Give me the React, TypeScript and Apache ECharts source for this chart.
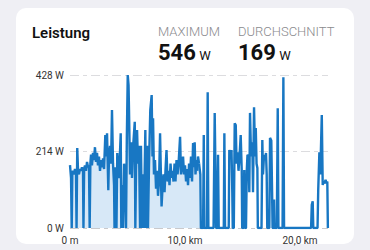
import React, { useEffect, useRef } from "react";
import * as echarts from "echarts";

// Distance (km) and power (W) for the part of the ride with the filled area
const distA: number[] = [
  0.0, 0.04, 0.09, 0.15, 0.2, 0.26, 0.35, 0.43, 0.52, 0.57, 0.63, 0.7, 0.78, 0.87, 0.96, 1.04, 1.13, 1.17, 1.23, 1.3,
  1.39, 1.48, 1.57, 1.65, 1.71, 1.77, 1.83, 1.91, 2.0, 2.09, 2.17, 2.26, 2.35, 2.43, 2.52, 2.61, 2.7, 2.78, 2.87, 2.96,
  3.07, 3.13, 3.22, 3.33, 3.39, 3.48, 3.57, 3.65, 3.74, 3.83, 3.87, 3.93, 4.0, 4.04, 4.11, 4.17, 4.26, 4.41, 4.46, 4.52,
  4.61, 4.7, 4.78, 4.87, 4.94, 5.02, 5.09, 5.13, 5.22, 5.3, 5.39, 5.48, 5.63, 5.68, 5.74, 5.83, 5.91, 6.0, 6.09, 6.17,
  6.26, 6.35, 6.41, 6.55, 6.61, 6.72, 6.78, 6.87, 6.98, 7.1, 7.17, 7.22, 7.3, 7.39, 7.48, 7.57, 7.65, 7.74, 7.83, 7.96,
  8.04, 8.13, 8.22, 8.3, 8.39, 8.48, 8.57, 8.65, 8.74, 8.83, 8.91, 9.0, 9.09, 9.17, 9.26, 9.35, 9.43, 9.57, 9.65, 9.74,
  9.83, 9.91, 10.0, 10.09, 10.17, 10.26, 10.35, 10.43, 10.52, 10.61, 10.7, 10.78, 10.84, 10.91, 11.0, 11.07, 11.13, 11.22,
];
const powerA: number[] = [
  176, 176, 140, 0, 150, 160, 150, 165, 155, 0, 224, 160, 150, 165, 160, 170, 160, 0, 165, 175,
  160, 185, 170, 175, 0, 180, 205, 175, 210, 190, 226, 185, 210, 175, 200, 160, 190, 170, 195, 165,
  260, 200, 265, 106, 200, 230, 180, 330, 180, 120, 0, 170, 130, 0, 210, 160, 140, 265, 0, 120,
  0, 180, 150, 0, 250, 428, 400, 330, 150, 240, 140, 224, 297, 0, 160, 274, 180, 230, 0, 230,
  0, 150, 0, 274, 0, 230, 0, 180, 330, 372, 200, 307, 150, 190, 110, 160, 90, 130, 265, 60,
  110, 150, 100, 160, 218, 130, 160, 120, 180, 140, 160, 130, 180, 130, 190, 150, 175, 255, 150, 170,
  200, 150, 175, 130, 165, 120, 180, 140, 200, 130, 238, 170, 240, 150, 190, 160, 200, 180,
];

// Distance (km) and power (W) for the rest of the ride (line only)
const distB: number[] = [
  11.22, 11.33, 11.37, 11.57, 11.63, 11.68, 11.91, 11.97, 12.03, 12.48, 12.58, 12.65, 12.7, 12.81, 12.87, 12.93,
  13.37, 13.42, 13.48, 13.8, 13.85, 13.96, 14.04, 14.11, 14.15, 14.24, 14.32, 14.41, 14.48, 14.57, 14.65, 14.74,
  14.84, 14.93, 14.97, 15.09, 15.15, 15.22, 15.3, 15.37, 15.43, 15.52, 15.59, 15.65, 15.74, 15.85, 15.91, 16.0,
  16.09, 16.15, 16.22, 16.29, 16.33, 16.65, 16.72, 16.78, 16.87, 16.96, 17.04, 17.1, 17.15, 17.33, 17.39, 17.5,
  17.57, 17.61, 17.7, 17.74, 17.78, 17.98, 18.06, 18.12, 18.48, 18.55, 18.61, 20.96, 21.02, 21.1, 21.15, 21.52,
  21.58, 21.68, 21.76, 21.89, 21.97, 22.04, 22.13, 22.22, 22.3, 22.37, 22.42,
];
const powerB: number[] = [
  180, 150, 0, 0, 260, 0, 0, 380, 0, 0, 322, 150, 0, 0, 205, 0,
  0, 265, 0, 0, 218, 200, 218, 100, 0, 0, 293, 288, 180, 212, 160, 200,
  260, 160, 0, 0, 162, 0, 0, 162, 205, 200, 100, 322, 200, 240, 100, 338,
  200, 280, 180, 168, 0, 0, 246, 150, 205, 190, 210, 150, 0, 0, 252, 245,
  100, 0, 0, 80, 0, 0, 335, 0, 0, 422, 0, 0, 65, 75, 0, 0,
  106, 212, 150, 316, 120, 130, 125, 135, 125, 130, 0,
];

const yTicks: number[] = [0, 214, 428];
const title = "Leistung";
const maxLabel = "MAXIMUM";
const maxValue = "546";
const avgLabel = "DURCHSCHNITT";
const avgValue = "169";
const unit = "W";

const BLUE = "#1877c3";
const FILL = "#d7e8f7";
const FONT = "Roboto, 'Noto Sans', sans-serif";

export default function App() {
  const ref = useRef<HTMLDivElement>(null);

  useEffect(() => {
    document.body.style.margin = "0";
    if (!ref.current) return;
    const chart = echarts.init(ref.current, undefined, { renderer: "svg" });
    const dataA = distA.map((d, i) => [d, powerA[i]]);
    const dataB = distB.map((d, i) => [d, powerB[i]]);
    chart.setOption({
      animation: false,
      backgroundColor: "#efeff4",
      textStyle: { fontFamily: FONT },
      graphic: [
        {
          type: "rect",
          z: -10,
          shape: { x: 16, y: 8, width: 338, height: 236, r: 10 },
          style: { fill: "#ffffff" },
          silent: true,
        },
        {
          type: "text",
          x: 32,
          y: 25,
          style: { text: title, font: `600 15px ${FONT}`, fill: "#111" },
        },
        {
          type: "text",
          x: 158,
          y: 25,
          style: { text: maxLabel, font: `300 13px ${FONT}`, fill: "#8a8a8e" },
        },
        {
          type: "text",
          x: 158,
          y: 41,
          style: {
            text: `{v|${maxValue}} {u|${unit}}`,
            rich: {
              v: { font: `700 22px ${FONT}`, fill: "#111", verticalAlign: "bottom" },
              u: { font: `400 13px ${FONT}`, fill: "#111", verticalAlign: "bottom", padding: [0, 0, 1, 0] },
            },
          },
        },
        {
          type: "text",
          x: 238,
          y: 25,
          style: { text: avgLabel, font: `300 13px ${FONT}`, fill: "#8a8a8e" },
        },
        {
          type: "text",
          x: 238,
          y: 41,
          style: {
            text: `{v|${avgValue}} {u|${unit}}`,
            rich: {
              v: { font: `700 22px ${FONT}`, fill: "#111", verticalAlign: "bottom" },
              u: { font: `400 13px ${FONT}`, fill: "#111", verticalAlign: "bottom", padding: [0, 0, 1, 0] },
            },
          },
        },
      ],
      grid: { left: 70, right: 42, top: 75, bottom: 22, containLabel: false },
      xAxis: {
        type: "value",
        min: 0,
        max: 22.43,
        interval: 10,
        axisLine: { show: false },
        axisTick: { show: false },
        splitLine: { show: false },
        axisLabel: {
          showMaxLabel: false,
          margin: 7,
          fontSize: 10,
          color: "#333",
          fontFamily: FONT,
          formatter: (v: number) => (v === 0 ? "0 m" : `${v.toFixed(1).replace(".", ",")} km`),
        },
      },
      yAxis: {
        type: "value",
        min: yTicks[0],
        max: yTicks[2],
        interval: yTicks[1],
        axisLine: { show: false },
        axisTick: { show: false },
        axisLabel: {
          margin: 6,
          fontSize: 10,
          color: "#333",
          fontFamily: FONT,
          formatter: (v: number) => `${v} W`,
        },
        splitLine: {
          show: true,
          lineStyle: {
            color: ["#c9c9cc", "#dcdcdf", "#dcdcdf"],
            type: [
              [5, 0],
              [4, 4],
              [4, 4],
            ] as any,
            width: 1,
          },
        },
      },
      series: [
        {
          type: "line",
          data: dataA,
          showSymbol: false,
          lineStyle: { color: BLUE, width: 2.4 },
          areaStyle: { color: FILL, opacity: 1 },
          z: 3,
        },
        {
          type: "line",
          data: dataB,
          showSymbol: false,
          lineStyle: { color: BLUE, width: 2.4 },
          z: 3,
        },
      ],
    });
    return () => chart.dispose();
  }, []);

  return <div ref={ref} style={{ width: 370, height: 250 }} />;
}
